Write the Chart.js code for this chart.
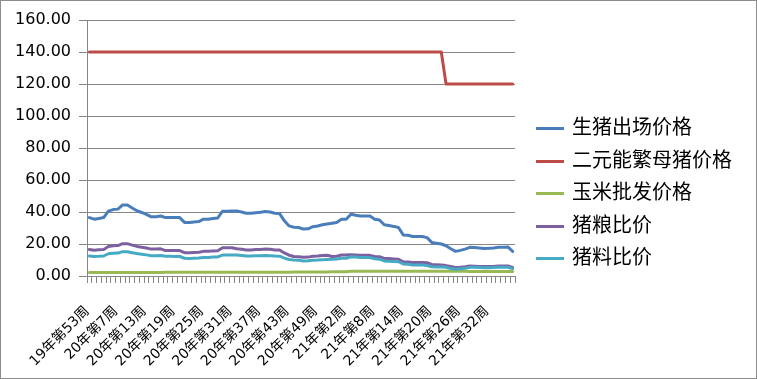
<!DOCTYPE html>
<html>
<head>
<meta charset="utf-8">
<script src="https://cdn.jsdelivr.net/npm/chart.js@4/dist/chart.umd.min.js"></script>
<style>
  html, body { margin: 0; padding: 0; background: #fff; }
  #wrap { position: relative; width: 757px; height: 379px; box-sizing: border-box; border: 1px solid #8c8c8c; }
  #chart { position: absolute; left: -1px; top: -1px; }
  #legend { position: absolute; left: 535px; top: 109px; font-family: "Noto Sans CJK SC", sans-serif; font-size: 20px; color: #000; }
  #legend .item { height: 32.5px; line-height: 32.5px; white-space: nowrap; }
  #legend .swatch { display: inline-block; width: 28px; height: 3px; vertical-align: middle; margin-right: 8px; }
</style>
</head>
<body>
<div id="wrap">
  <canvas id="chart" width="757" height="379"></canvas>
  <div id="legend"></div>
</div>
<script>
const weeks = [
  '19年第53周',
  '20年第2周', '20年第3周', '20年第4周', '20年第5周', '20年第6周', '20年第7周', '20年第8周', '20年第9周', '20年第10周',
  '20年第11周', '20年第12周', '20年第13周', '20年第14周', '20年第15周', '20年第16周', '20年第17周', '20年第18周', '20年第19周',
  '20年第20周', '20年第21周', '20年第22周', '20年第23周', '20年第24周', '20年第25周', '20年第26周', '20年第27周', '20年第28周',
  '20年第29周', '20年第30周', '20年第31周', '20年第32周', '20年第33周', '20年第34周', '20年第35周', '20年第36周', '20年第37周',
  '20年第38周', '20年第39周', '20年第40周', '20年第41周', '20年第42周', '20年第43周', '20年第44周', '20年第45周', '20年第46周',
  '20年第47周', '20年第48周', '20年第49周', '20年第50周', '20年第51周', '20年第52周', '20年第53周',
  '21年第1周', '21年第2周', '21年第3周', '21年第4周', '21年第5周', '21年第6周', '21年第7周', '21年第8周', '21年第9周',
  '21年第10周', '21年第11周', '21年第12周', '21年第13周', '21年第14周', '21年第15周', '21年第16周', '21年第17周', '21年第18周',
  '21年第19周', '21年第20周', '21年第21周', '21年第22周', '21年第23周', '21年第24周', '21年第25周', '21年第26周', '21年第27周',
  '21年第28周', '21年第29周', '21年第30周', '21年第31周', '21年第32周', '21年第33周', '21年第34周', '21年第35周', '21年第36周',
  '21年第37周'
];

const seriesNames = ['生猪出场价格', '二元能繁母猪价格', '玉米批发价格', '猪粮比价', '猪料比价'];
const seriesColors = ['#4a7ebb', '#be4b48', '#98b954', '#7d60a0', '#46aac5'];

const hogPrice = [
  36.5, 35.5, 36.0, 36.5, 40.5, 41.5, 41.8, 44.4, 44.4, 42.5,
  40.8, 39.7, 38.5, 37.0, 37.0, 37.5, 36.5, 36.5, 36.5, 36.5,
  33.5, 33.4, 33.8, 34.0, 35.5, 35.5, 36.0, 36.3, 40.5, 40.5,
  40.6, 40.7, 40.0, 39.2, 39.2, 39.5, 39.8, 40.3, 40.0, 39.2,
  39.0, 34.5, 31.3, 30.5, 30.3, 29.3, 29.5, 30.8, 31.3, 32.0,
  32.5, 33.0, 33.5, 35.5, 35.5, 38.6, 38.0, 37.5, 37.5, 37.5,
  35.5, 35.0, 32.0, 31.5, 31.0, 30.3, 25.7, 25.5, 24.7, 24.7,
  24.7, 24.0, 21.0, 20.5, 20.0, 18.9, 17.0, 15.4, 16.0, 16.8,
  17.9, 17.8, 17.5, 17.2, 17.3, 17.5, 17.9, 18.0, 18.2, 15.4
];

const sowPrice = [
  140, 140, 140, 140, 140, 140, 140, 140, 140, 140,
  140, 140, 140, 140, 140, 140, 140, 140, 140, 140,
  140, 140, 140, 140, 140, 140, 140, 140, 140, 140,
  140, 140, 140, 140, 140, 140, 140, 140, 140, 140,
  140, 140, 140, 140, 140, 140, 140, 140, 140, 140,
  140, 140, 140, 140, 140, 140, 140, 140, 140, 140,
  140, 140, 140, 140, 140, 140, 140, 140, 140, 140,
  140, 140, 140, 140, 140, 120, 120, 120, 120, 120,
  120, 120, 120, 120, 120, 120, 120, 120, 120, 120
];

const cornPrice = [
  2.2, 2.2, 2.2, 2.2, 2.2, 2.2, 2.2, 2.2, 2.2, 2.2,
  2.2, 2.2, 2.2, 2.2, 2.2, 2.2, 2.3, 2.3, 2.3, 2.3,
  2.3, 2.3, 2.3, 2.3, 2.3, 2.3, 2.3, 2.3, 2.3, 2.3,
  2.3, 2.4, 2.4, 2.4, 2.4, 2.4, 2.4, 2.4, 2.4, 2.4,
  2.4, 2.4, 2.4, 2.5, 2.5, 2.5, 2.5, 2.5, 2.5, 2.5,
  2.5, 2.7, 2.7, 2.7, 2.7, 2.9, 2.9, 2.9, 2.9, 2.9,
  2.9, 2.9, 2.9, 2.9, 2.9, 2.9, 2.9, 2.9, 2.9, 2.9,
  2.9, 2.9, 2.9, 2.9, 2.9, 2.9, 2.9, 2.9, 2.9, 2.9,
  2.85, 2.85, 2.85, 2.85, 2.85, 2.85, 2.85, 2.85, 2.85, 2.85
];

const hogGrainRatio = [
  16.6, 16.1, 16.4, 16.6, 18.4, 18.9, 19.0, 20.2, 20.2, 19.3,
  18.5, 18.0, 17.5, 16.8, 16.8, 17.0, 15.9, 15.9, 15.9, 15.9,
  14.6, 14.5, 14.7, 14.8, 15.4, 15.4, 15.7, 15.8, 17.6, 17.6,
  17.7, 17.0, 16.7, 16.3, 16.3, 16.5, 16.6, 16.8, 16.7, 16.3,
  16.3, 14.4, 13.0, 12.2, 12.1, 11.7, 11.8, 12.3, 12.5, 12.8,
  13.0, 12.2, 12.4, 13.1, 13.1, 13.3, 13.1, 12.9, 12.9, 12.9,
  12.2, 12.1, 11.0, 10.9, 10.7, 10.4, 8.9, 8.8, 8.5, 8.5,
  8.5, 8.3, 7.2, 7.1, 6.9, 6.5, 5.9, 5.3, 5.5, 5.8,
  6.2, 6.1, 6.0, 5.9, 6.0, 6.0, 6.2, 6.2, 6.3, 5.3
];

const hogFeedRatio = [
  12.5, 12.2, 12.3, 12.5, 13.9, 14.2, 14.3, 15.2, 15.2, 14.5,
  14.0, 13.6, 13.2, 12.7, 12.7, 12.8, 12.3, 12.3, 12.2, 12.2,
  11.1, 11.0, 11.1, 11.2, 11.6, 11.6, 11.8, 11.9, 13.1, 13.1,
  13.1, 13.1, 12.8, 12.5, 12.5, 12.6, 12.7, 12.8, 12.7, 12.5,
  12.4, 11.2, 10.3, 10.0, 9.8, 9.4, 9.5, 9.9, 10.0, 10.2,
  10.3, 10.4, 10.6, 11.1, 11.1, 12.0, 11.8, 11.6, 11.6, 11.5,
  10.8, 10.5, 9.4, 9.2, 9.0, 8.9, 7.5, 7.3, 6.9, 6.9,
  6.8, 6.6, 5.8, 5.7, 5.6, 5.4, 4.7, 4.2, 4.5, 4.9,
  5.4, 5.4, 5.3, 5.2, 5.2, 5.3, 5.4, 5.4, 5.5, 4.6
];

const yTicks = [0, 20, 40, 60, 80, 100, 120, 140, 160];

const allSeries = [hogPrice, sowPrice, cornPrice, hogGrainRatio, hogFeedRatio];
const GRID = '#868686';

const datasets = allSeries.map((values, i) => ({
  label: seriesNames[i],
  data: values,
  borderColor: seriesColors[i],
  backgroundColor: seriesColors[i],
  borderWidth: 3,
  borderJoinStyle: 'round',
  borderCapStyle: 'round',
  pointRadius: 0,
  tension: 0,
  order: allSeries.length - i
}));

new Chart(document.getElementById('chart'), {
  type: 'line',
  data: { labels: weeks, datasets: datasets },
  options: {
    responsive: false,
    animation: false,
    layout: { padding: { left: 0, top: 20, right: 242, bottom: 0 } },
    plugins: { legend: { display: false }, tooltip: { enabled: false } },
    scales: {
      x: {
        type: 'category',
        offset: true,
        afterFit: function (scale) { scale.height = 103; },
        grid: { offset: true, drawOnChartArea: false, drawTicks: true, tickLength: 7, color: GRID },
        border: { display: true, color: GRID, width: 1 },
        ticks: {
          autoSkip: false,
          maxRotation: 45,
          minRotation: 45,
          padding: 20,
          labelOffset: -2,
          color: '#000',
          font: { family: '"DejaVu Sans", "Noto Sans CJK SC"', size: 14 },
          callback: function (value, index) { return index % 6 === 0 ? weeks[index] : ''; }
        }
      },
      y: {
        min: 0,
        max: 160,
        afterFit: function (scale) { scale.width = 87; },
        afterBuildTicks: function (scale) { scale.ticks = yTicks.map(v => ({ value: v })); },
        grid: { color: GRID, tickLength: 8 },
        border: { display: true, color: GRID, width: 1 },
        ticks: {
          padding: 8,
          color: '#000',
          font: { family: '"DejaVu Sans"', size: 16 },
          callback: function (value) { return Number(value).toFixed(2); }
        }
      }
    }
  }
});

const legendEl = document.getElementById('legend');
seriesNames.forEach((name, i) => {
  const item = document.createElement('div');
  item.className = 'item';
  const sw = document.createElement('span');
  sw.className = 'swatch';
  sw.style.background = seriesColors[i];
  item.appendChild(sw);
  item.appendChild(document.createTextNode(name));
  legendEl.appendChild(item);
});
</script>
</body>
</html>
